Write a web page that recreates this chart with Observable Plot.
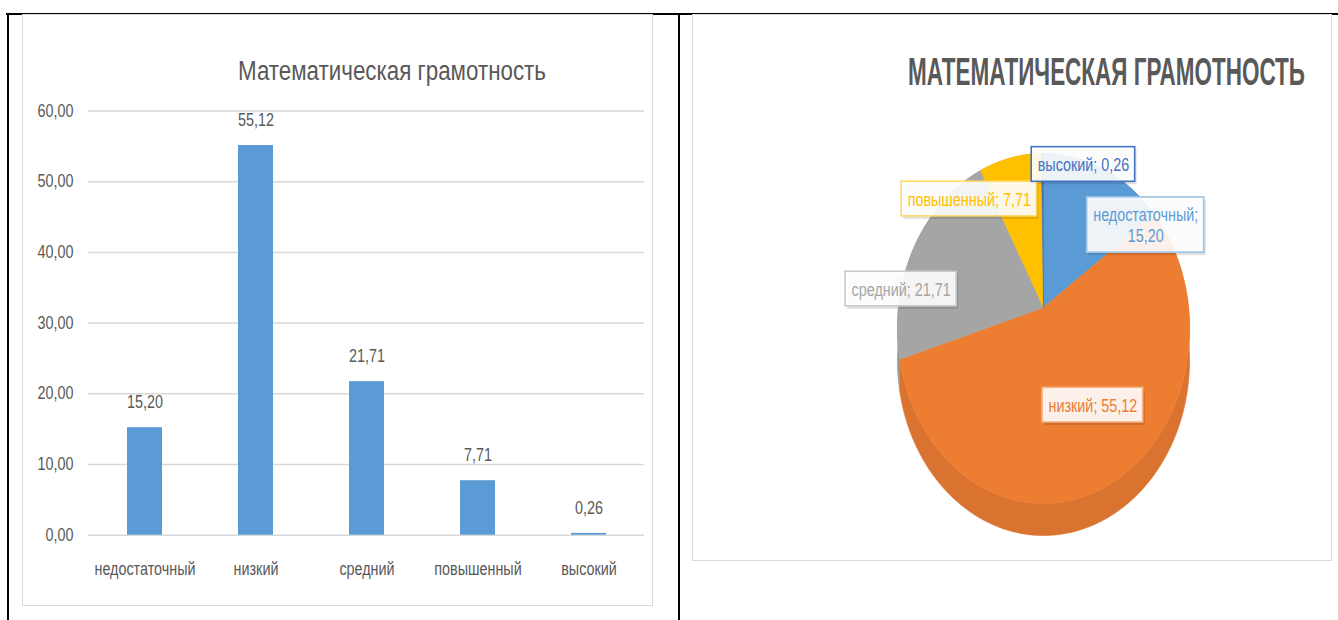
<!DOCTYPE html>
<html>
<head>
<meta charset="utf-8">
<script src="https://cdn.jsdelivr.net/npm/d3@7"></script>
<script src="https://cdn.jsdelivr.net/npm/@observablehq/plot@0.6"></script>
<style>
  body { margin: 0; background: #fff; }
  #page { position: relative; width: 1338px; height: 620px; overflow: hidden; background: #fff;
          font-family: "Liberation Sans", Arial, sans-serif; }
  .rule { position: absolute; background: #000; }
  .box { position: absolute; border: 1.5px solid #d9d9d9; box-sizing: border-box; }
  .title { position: absolute; white-space: nowrap; color: #595959; transform-origin: left center; line-height: 1; }
  .plot { position: absolute; overflow: visible; }
</style>
</head>
<body>
<div id="page">
  <div class="rule" style="left:6px;top:13px;width:1332px;height:2px"></div>
  <div class="rule" style="left:7px;top:13px;width:2px;height:607px"></div>
  <div class="rule" style="left:678px;top:13px;width:2px;height:607px"></div>
  <div class="box" style="left:22px;top:14px;width:631px;height:592px"></div>
  <div class="box" style="left:692px;top:14px;width:640px;height:547px"></div>
  <div id="t1" class="title" style="left:238px;top:58px;font-size:27px;">Математическая грамотность</div>
  <div id="t2" class="title" style="left:908px;top:53px;font-size:38px;font-weight:bold;">МАТЕМАТИЧЕСКАЯ ГРАМОТНОСТЬ</div>
</div>
<script>
// ---------- data ----------
const categories = ["недостаточный", "низкий", "средний", "повышенный", "высокий"];
const values = [15.20, 55.12, 21.71, 7.71, 0.26];
const yTicks = [0, 10, 20, 30, 40, 50, 60];

// ---------- styles ----------
const FONT = '"Liberation Sans", Arial, sans-serif';
const SQUEEZE = 0.82;   // horizontal condensing of chart text
const TEXT = "#595959";
const barColor = "#5B9BD5";
const sliceColors = ["#5B9BD5", "#ED7D31", "#A5A5A5", "#FFC000", "#4472C4"];
const sideColors  = ["#4F8DC6", "#DA7230", "#969696", "#E0AA00", "#3A62AD"];
const labelText   = ["#5B9BD5", "#ED7D31", "#A5A5A5", "#FFC000", "#4472C4"];
const labelBorder = ["#9DC3E6", "#F4B183", "#C9C9C9", "#FFD966", "#4472C4"];
// label offsets from the rim point at each slice's mid-angle (layout only)
const labelNudge = [[42, 56], [-22, -76], [-14, 44], [-41, 41], [41, 11]];

const fmt = v => v.toFixed(2).replace(".", ",");
const page = document.getElementById("page");

function condense(svg, f) {
  svg.querySelectorAll("text").forEach(t => {
    const spans = t.querySelectorAll("tspan");
    const targets = spans.length ? Array.from(spans) : [t];
    targets.forEach(el => {
      const L = el.getComputedTextLength();
      if (L > 0) {
        el.setAttribute("textLength", (L * f).toFixed(2));
        el.setAttribute("lengthAdjust", "spacingAndGlyphs");
      }
    });
  });
}

// ---------- bar chart ----------
const rows = categories.map((c, i) => ({category: c, value: values[i]}));
const bar = Plot.plot({
  width: 631, height: 592,
  marginLeft: 66, marginRight: 9, marginTop: 96.5, marginBottom: 71.3,
  style: {fontFamily: FONT, fontSize: "17.5px", color: TEXT, background: "transparent", overflow: "visible"},
  x: {domain: categories, paddingInner: 0.686, paddingOuter: 0.343, label: null, tickSize: 0, tickPadding: 27},
  y: {domain: [0, 60], ticks: yTicks, tickFormat: fmt, label: null, tickSize: 0, tickPadding: 15},
  marks: [
    Plot.gridY(yTicks, {stroke: "#d9d9d9", strokeOpacity: 1, strokeWidth: 1.5}),
    Plot.barY(rows, {x: "category", y: "value", fill: barColor}),
    Plot.text(rows, {x: "category", y: "value", text: d => fmt(d.value), dy: -25, fill: TEXT, fontSize: 17.5})
  ]
});
bar.classList.add("plot");
bar.style.left = "22px"; bar.style.top = "14px";
page.appendChild(bar);
condense(bar, SQUEEZE);

// ---------- 3D pie ----------
const W2 = 638, H2 = 546;
const cx = 350, cy = 293, R = 145, S = 172.5, K = 0.12, DEPTH = 32;
function proj(theta) {
  const u = Math.sin(theta), v = -Math.cos(theta), w = 1 - K * v;
  return [cx + R * u / w, cy + S * v / w];
}
function rim(a0, a1) {
  const n = Math.max(2, Math.ceil((a1 - a0) / (Math.PI / 180)));
  return d3.range(n + 1).map(j => proj(a0 + (a1 - a0) * j / n));
}
const pieRows = categories.map((c, i) => ({category: c, value: values[i], i}));
const arcs = d3.pie().sort(null).value(d => d.value)(pieRows);

const pieMarks = [];
arcs.forEach(a => {
  const r = rim(a.startAngle, a.endAngle);
  const side = [...r.map(([x, y]) => ({x, y})), ...r.slice().reverse().map(([x, y]) => ({x, y: y + DEPTH}))];
  const col = sideColors[a.data.i];
  pieMarks.push(Plot.line(side, {x: "x", y: "y", fill: col, stroke: col, strokeWidth: 0.6}));
});
arcs.forEach(a => {
  const r = rim(a.startAngle, a.endAngle);
  const top = [{x: cx, y: cy}, ...r.map(([x, y]) => ({x, y})), {x: cx, y: cy}];
  const col = sliceColors[a.data.i];
  pieMarks.push(Plot.line(top, {x: "x", y: "y", fill: col, stroke: col, strokeWidth: 0.6}));
});

// labels
const cnv = document.createElement("canvas").getContext("2d");
const LFS = 17.5, LH = 1.18;
cnv.font = `${LFS}px ${FONT}`;
const labels = arcs.map(a => {
  const i = a.data.i;
  const mid = (a.startAngle + a.endAngle) / 2;
  const [px, py] = proj(mid);
  const text = i === 0 ? `${a.data.category};\n${fmt(a.data.value)}` : `${a.data.category}; ${fmt(a.data.value)}`;
  const lines = text.split("\n");
  const tw = Math.max(...lines.map(l => cnv.measureText(l).width)) * SQUEEZE;
  return {x: px + labelNudge[i][0], y: py + labelNudge[i][1], text,
          w: tw + 12, h: lines.length * LFS * LH + 14, color: labelText[i], border: labelBorder[i]};
});
pieMarks.push(
  Plot.rect(labels, {x1: d => d.x - d.w / 2, x2: d => d.x + d.w / 2, y1: d => d.y - d.h / 2, y2: d => d.y + d.h / 2,
                     fill: "#000", fillOpacity: 0.12, dx: 2, dy: 3}),
  Plot.rect(labels, {x1: d => d.x - d.w / 2, x2: d => d.x + d.w / 2, y1: d => d.y - d.h / 2, y2: d => d.y + d.h / 2,
                     fill: "#ffffff", fillOpacity: 0.9, stroke: "border", strokeWidth: 1.6}),
  Plot.text(labels, {x: "x", y: "y", text: "text", fill: "color", fontSize: LFS, lineHeight: LH})
);

const pie = Plot.plot({
  width: W2, height: H2, margin: 0,
  style: {fontFamily: FONT, fontSize: "17.5px", background: "transparent", overflow: "visible"},
  x: {type: "identity", axis: null},
  y: {type: "identity", axis: null},
  color: {type: "identity"},
  marks: pieMarks
});
pie.classList.add("plot");
pie.style.left = "693px"; pie.style.top = "14px";
page.appendChild(pie);
condense(pie, SQUEEZE);

// fit titles to their measured widths
function fit(id, target) {
  const el = document.getElementById(id);
  const w = el.getBoundingClientRect().width;
  el.style.transform = `scaleX(${target / w})`;
}
fit("t1", 308);
fit("t2", 397);
</script>
</body>
</html>
